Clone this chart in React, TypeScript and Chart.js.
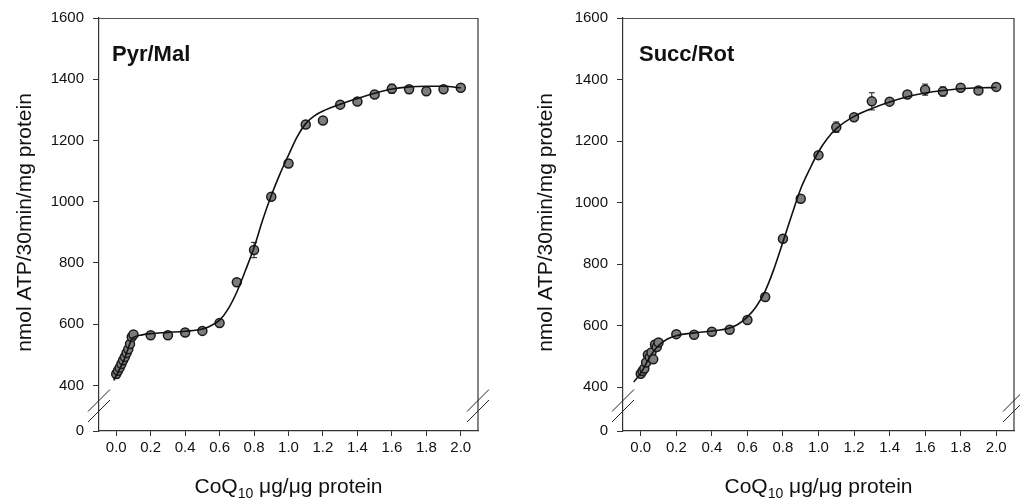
import React, { useEffect, useRef } from 'react';
import { Chart, registerables } from 'chart.js';
Chart.register(...registerables);

const FONT = "'Liberation Sans', Arial, Helvetica, sans-serif";

const xTicks = [0, 0.2, 0.4, 0.6, 0.8, 1.0, 1.2, 1.4, 1.6, 1.8, 2.0];
const yTickValues = [400, 600, 800, 1000, 1200, 1400, 1600];
const yTickLabels = ['0', '400', '600', '800', '1000', '1200', '1400', '1600'];

const doseX = [0, 0.01, 0.02, 0.03, 0.04, 0.05, 0.06, 0.07, 0.08, 0.09, 0.1,
  0.2, 0.3, 0.4, 0.5, 0.6, 0.7, 0.8, 0.9, 1.0, 1.1, 1.2, 1.3, 1.4, 1.5, 1.6, 1.7, 1.8, 1.9, 2.0];

const pyrY = [437, 448, 458, 470, 482, 493, 506, 518, 535, 558, 566,
  564, 564, 573, 578, 604, 737, 842, 1016, 1125, 1252, 1265, 1317, 1327, 1350, 1369, 1367, 1361, 1367, 1372];
const pyrErr = [14, 12, 12, 10, 10, 10, 10, 10, 10, 8, 6,
  5, 5, 12, 6, 5, 5, 25, 8, 12, 6, 5, 5, 8, 6, 15, 12, 10, 5, 5];
const pyrCurveX = [-0.014, 0.05, 0.09, 0.1, 0.15, 0.2, 0.3, 0.4, 0.5, 0.55, 0.6, 0.65, 0.7, 0.75, 0.8, 0.85,
  0.9, 0.95, 1.0, 1.05, 1.1, 1.15, 1.2, 1.3, 1.4, 1.5, 1.6, 1.7, 1.8, 1.9, 2.0];
const pyrCurveY = [416, 490, 552, 557, 565, 569, 573, 577, 584, 595, 613, 650, 705, 775, 850, 940,
  1020, 1090, 1152, 1212, 1255, 1280, 1296, 1318, 1337, 1354, 1368, 1375, 1377, 1377, 1372];

const succY = [443, 452, 460, 480, 505, 497, 512, 490, 538, 530, 545,
  572, 570, 580, 586, 618, 693, 882, 1012, 1154, 1245, 1277, 1329, 1328, 1351, 1367, 1361, 1373, 1364, 1376];
const succErr = [8, 8, 8, 8, 10, 8, 10, 8, 8, 8, 10,
  5, 5, 5, 6, 5, 5, 6, 5, 5, 17, 8, 28, 6, 6, 18, 15, 6, 6, 8];
const succCurveX = [-0.04, 0.0, 0.05, 0.1, 0.15, 0.2, 0.3, 0.4, 0.5, 0.55, 0.6, 0.65, 0.7, 0.75, 0.8, 0.85,
  0.9, 0.95, 1.0, 1.05, 1.1, 1.2, 1.3, 1.4, 1.5, 1.6, 1.7, 1.8, 1.9, 2.0];
const succCurveY = [416, 445, 497, 535, 556, 567, 576, 582, 592, 605, 628, 662, 712, 785, 872, 960,
  1045, 1108, 1165, 1208, 1240, 1280, 1306, 1327, 1344, 1356, 1364, 1370, 1373, 1374];

type PanelCfg = {
  label: string;
  labelDx: number;
  ys: number[];
  errs: number[];
  cx: number[];
  cy: number[];
  yMin: number;
  yAxisWidth: number;
  padRight: number;
  yTitleX: number;
  width: number;
};

function makeChart(canvas: HTMLCanvasElement, p: PanelCfg) {
  const pts = doseX.map((x, i) => ({ x, y: p.ys[i] }));
  const curve = p.cx.map((x, i) => ({ x, y: p.cy[i] }));

  const deco = {
    id: 'deco',
    beforeDatasetDraw(chart: any, args: any) {
      if (args.index !== 1) return;
      const ctx = chart.ctx;
      const xs = chart.scales.x;
      const ysc = chart.scales.y;
      ctx.save();
      ctx.strokeStyle = '#1a1a1a';
      ctx.lineWidth = 1;
      doseX.forEach((x, i) => {
        const e = p.errs[i];
        if (!e) return;
        const px = xs.getPixelForValue(x);
        const t = ysc.getPixelForValue(p.ys[i] + e);
        const b = ysc.getPixelForValue(p.ys[i] - e);
        ctx.beginPath();
        ctx.moveTo(px, t); ctx.lineTo(px, b);
        ctx.moveTo(px - 3, t); ctx.lineTo(px + 3, t);
        ctx.moveTo(px - 3, b); ctx.lineTo(px + 3, b);
        ctx.stroke();
      });
      ctx.restore();
    },
    afterDraw(chart: any) {
      const ctx = chart.ctx;
      const a = chart.chartArea;
      ctx.save();
      // top & right borders
      ctx.strokeStyle = '#555';
      ctx.lineWidth = 1;
      ctx.beginPath();
      ctx.moveTo(a.left, a.top + 0.5); ctx.lineTo(a.right, a.top + 0.5);
      ctx.stroke();
      ctx.strokeStyle = '#333';
      ctx.lineWidth = 1.2;
      ctx.beginPath();
      ctx.moveTo(a.right, a.top); ctx.lineTo(a.right, a.bottom);
      ctx.stroke();
      // break marks
      ctx.strokeStyle = '#222';
      ctx.lineWidth = 1;
      [a.left, a.right].forEach((bx) => {
        [a.bottom - 30.5, a.bottom - 20].forEach((cy) => {
          ctx.beginPath();
          ctx.moveTo(bx - 11, cy + 11);
          ctx.lineTo(bx + 11, cy - 11);
          ctx.stroke();
        });
      });
      // panel label
      ctx.fillStyle = '#111';
      ctx.font = `bold 22px ${FONT}`;
      ctx.textAlign = 'left';
      ctx.textBaseline = 'alphabetic';
      ctx.fillText(p.label, a.left + p.labelDx, a.top + 43);
      // x title with subscript
      const big = `21px ${FONT}`;
      const small = `14px ${FONT}`;
      ctx.font = big;
      const w1 = ctx.measureText('CoQ').width;
      const w3 = ctx.measureText(' μg/μg protein').width;
      ctx.font = small;
      const w2 = ctx.measureText('10').width;
      const total = w1 + w2 + w3;
      let sx = (a.left + a.right) / 2 - total / 2;
      const base = 493;
      ctx.font = big;
      ctx.fillText('CoQ', sx, base);
      sx += w1;
      ctx.font = small;
      ctx.fillText('10', sx, base + 5);
      sx += w2;
      ctx.font = big;
      ctx.fillText(' μg/μg protein', sx, base);
      // y title
      ctx.translate(p.yTitleX, (a.top + a.bottom) / 2 - 2);
      ctx.rotate(-Math.PI / 2);
      ctx.textAlign = 'center';
      ctx.textBaseline = 'middle';
      ctx.font = `21px ${FONT}`;
      ctx.fillText('nmol ATP/30min/mg protein', 0, 0);
      ctx.restore();
    },
  };

  return new Chart(canvas, {
    type: 'scatter',
    data: {
      datasets: [
        {
          data: curve,
          showLine: true,
          borderColor: '#111',
          borderWidth: 1.6,
          pointRadius: 0,
          cubicInterpolationMode: 'monotone',
          fill: false,
        } as any,
        {
          data: pts,
          showLine: false,
          pointRadius: 4.5,
          pointBackgroundColor: '#7d7d7d',
          pointBorderColor: '#1a1a1a',
          pointBorderWidth: 1.5,
        } as any,
      ],
    },
    options: {
      responsive: false,
      animation: false,
      events: [],
      layout: { padding: { left: 0, right: p.padRight, top: 15, bottom: 0 } },
      plugins: { legend: { display: false }, tooltip: { enabled: false } },
      scales: {
        x: {
          type: 'linear',
          min: -0.1,
          max: 2.1,
          afterBuildTicks: (s: any) => { s.ticks = xTicks.map((v) => ({ value: v })); },
          afterFit: (s: any) => { s.height = 73; },
          ticks: {
            callback: (v: any) => Number(v).toFixed(1),
            font: { size: 15, family: FONT },
            color: '#111',
            padding: 3,
            maxRotation: 0,
            autoSkip: false,
          },
          grid: { drawOnChartArea: false, drawTicks: true, tickLength: 5, color: '#333' },
          border: { display: true, color: '#333', width: 1.2 },
        },
        y: {
          type: 'linear',
          min: p.yMin,
          max: 1600,
          afterBuildTicks: (s: any) => {
            s.ticks = [p.yMin, ...yTickValues].map((v) => ({ value: v }));
          },
          afterFit: (s: any) => { s.width = p.yAxisWidth; },
          ticks: {
            callback: (_v: any, i: number) => yTickLabels[i],
            font: { size: 15, family: FONT },
            color: '#111',
            padding: 9,
            autoSkip: false,
          },
          grid: { drawOnChartArea: false, drawTicks: true, tickLength: 6, color: '#333' },
          border: { display: true, color: '#333', width: 1.2 },
        },
      },
    },
    plugins: [deco],
  } as any);
}

const leftPanel: PanelCfg = {
  label: 'Pyr/Mal', labelDx: 13, ys: pyrY, errs: pyrErr, cx: pyrCurveX, cy: pyrCurveY,
  yMin: 251, yAxisWidth: 99, padRight: 22, yTitleX: 25, width: 500,
};
const rightPanel: PanelCfg = {
  label: 'Succ/Rot', labelDx: 16, ys: succY, errs: succErr, cx: succCurveX, cy: succCurveY,
  yMin: 257, yAxisWidth: 123, padRight: 2, yTitleX: 46, width: 520,
};

function Panel({ cfg, left }: { cfg: PanelCfg; left: number }) {
  const ref = useRef<HTMLCanvasElement | null>(null);
  useEffect(() => {
    if (!ref.current) return;
    const c = makeChart(ref.current, cfg);
    return () => c.destroy();
  }, [cfg]);
  return (
    <canvas
      ref={ref}
      width={cfg.width}
      height={504}
      style={{ position: 'absolute', left, top: 0, width: cfg.width, height: 504 }}
    />
  );
}

export default function App() {
  return (
    <div style={{ position: 'absolute', left: 0, top: 0, width: 1020, height: 504, background: '#fff', overflow: 'hidden' }}>
      <Panel cfg={leftPanel} left={0} />
      <Panel cfg={rightPanel} left={500} />
    </div>
  );
}
